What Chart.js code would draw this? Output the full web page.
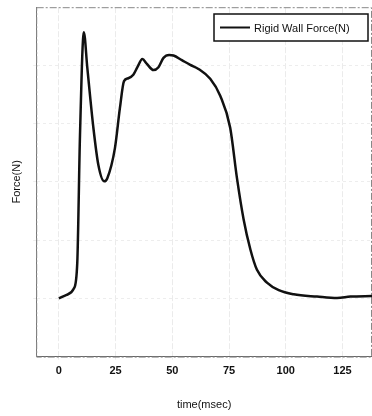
<!DOCTYPE html>
<html>
<head>
<meta charset="utf-8">
<script src="https://cdn.jsdelivr.net/npm/chart.js@4"></script>
<style>
  html, body { margin: 0; padding: 0; background: #fff; }
  #wrap { width: 372px; height: 416px; }
</style>
</head>
<body>
<div id="wrap"><canvas id="force-chart" width="372" height="416"></canvas></div>
<script>
// data (time in msec, force in plot units)
const timeMs = [0, 3.4, 6.6, 8.1, 9.3, 11, 12.5, 15.2, 17.4, 20, 21.3, 24.7, 26.9, 28.7, 30.6,
  32.8, 34.6, 36.8, 38.7, 41.7, 43.9, 46.1, 48.6, 50.5, 54.2, 57.9, 61.5, 66.7, 71.1, 75.5,
  78.5, 81.4, 84.4, 87.3, 91.7, 96.9, 103.5, 113.8, 122.6, 128.5, 138];
const force = [0, 0.06, 0.17, 0.61, 2.8, 4.57, 3.97, 2.93, 2.29, 2.01, 2.06, 2.58, 3.27, 3.73, 3.78,
  3.84, 3.97, 4.11, 4.03, 3.92, 3.97, 4.13, 4.18, 4.17, 4.09, 4.01, 3.94, 3.77, 3.48, 2.93,
  2.06, 1.36, 0.84, 0.49, 0.27, 0.14, 0.07, 0.03, 0.005, 0.03, 0.04];
const xTicks = [0, 25, 50, 75, 100, 125];
const yTicks = [0, 1, 2, 3, 4];
const seriesName = 'Rigid Wall Force(N)';

const points = timeMs.map((t, i) => ({ x: t, y: force[i] }));

// frame round the plot + legend box in the upper right
const boxLegend = {
  id: 'boxLegend',
  beforeDatasetsDraw(chart) {
    const a = chart.chartArea, ctx = chart.ctx;
    ctx.save();
    ctx.strokeStyle = '#888';
    ctx.lineWidth = 1;
    ctx.setLineDash([7, 2, 2, 2]);
    ctx.strokeRect(a.left + 0.5, a.top + 0.5, a.right - a.left - 1, a.bottom - a.top);
    ctx.restore();
  },
  afterDraw(chart) {
    const ctx = chart.ctx;
    const x = 214, y = 14, w = 154, h = 27;
    ctx.save();
    ctx.fillStyle = '#fff';
    ctx.fillRect(x, y, w, h);
    ctx.strokeStyle = '#111';
    ctx.lineWidth = 1.5;
    ctx.strokeRect(x, y, w, h);
    ctx.beginPath();
    ctx.moveTo(x + 6, y + h / 2);
    ctx.lineTo(x + 36, y + h / 2);
    ctx.lineWidth = 2;
    ctx.stroke();
    ctx.fillStyle = '#111';
    ctx.font = '11px "Liberation Sans", Arial, sans-serif';
    ctx.textBaseline = 'middle';
    ctx.fillText(seriesName, x + 40, y + h / 2 + 1);
    ctx.restore();
  }
};

new Chart(document.getElementById('force-chart'), {
  type: 'line',
  data: {
    datasets: [{
      label: seriesName,
      data: points,
      borderColor: '#111',
      borderWidth: 2.5,
      pointRadius: 0,
      fill: false,
      cubicInterpolationMode: 'monotone'
    }]
  },
  options: {
    responsive: false,
    animation: false,
    layout: { padding: { top: 7, right: 0, left: 10, bottom: 4 } },
    plugins: { legend: { display: false }, tooltip: { enabled: false } },
    scales: {
      x: {
        type: 'linear',
        min: -10,
        max: 138,
        afterBuildTicks: s => { s.ticks = xTicks.map(v => ({ value: v })); },
        grid: { color: '#ebebeb', lineWidth: 1, drawTicks: true, tickLength: 3 },
        border: { color: '#666', dash: [6, 2] },
        ticks: { color: '#111', font: { family: '"Liberation Sans", Arial', size: 11, weight: 'bold' }, padding: 5, maxRotation: 0 },
        title: { display: true, text: 'time(msec)', color: '#111', font: { family: '"Liberation Sans", Arial', size: 11 }, padding: { top: 16, bottom: 0 } }
      },
      y: {
        min: -1,
        max: 5,
        afterBuildTicks: s => { s.ticks = yTicks.map(v => ({ value: v })); },
        grid: { color: '#ededed', lineWidth: 1, tickLength: 3 },
        border: { color: '#777', dash: [3, 3] },
        ticks: { display: true, callback: () => '', padding: 0 },
        title: { display: true, text: 'Force(N)', color: '#111', font: { family: '"Liberation Sans", Arial', size: 11 }, padding: { top: 0, bottom: 10 } }
      }
    }
  },
  plugins: [boxLegend]
});
</script>
</body>
</html>
